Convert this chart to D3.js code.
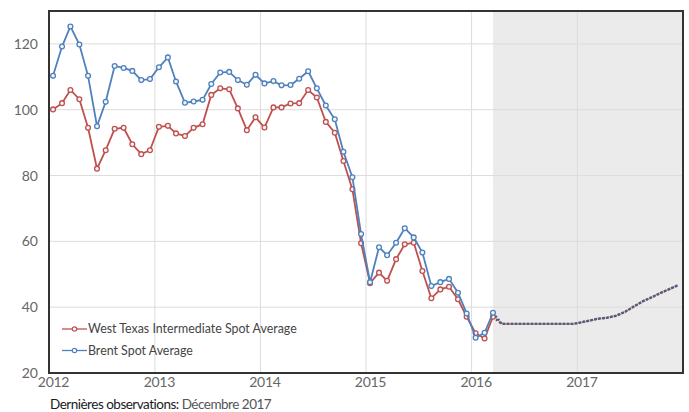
<!DOCTYPE html>
<html>
<head>
<meta charset="utf-8">
<script src="https://cdn.jsdelivr.net/npm/d3@7"></script>
<style>
  html, body { margin: 0; padding: 0; background: #fff; }
  svg { display: block; }
  text { font-family: Lato, "Open Sans", sans-serif; }
</style>
</head>
<body>
<svg id="chart" width="689" height="412"></svg>
<script>
// Monthly spot averages (USD per barrel), Jan 2012 – Mar 2016
const wtiValues = [
  100.1, 102.0, 106.0, 103.2, 94.5, 82.1, 87.7, 94.2, 94.5, 89.5, 86.5, 87.7,
  94.8, 95.1, 92.8, 92.0, 94.5, 95.6, 104.5, 106.5, 106.2, 100.4, 93.8, 97.7,
  94.6, 100.7, 100.7, 101.9, 102.0, 106.0, 103.7, 96.3, 93.0, 84.4, 75.8, 59.4,
  47.3, 50.5, 48.0, 54.6, 59.1, 59.6, 51.0, 42.7, 45.4, 46.2, 42.4, 37.1,
  32.1, 30.5, 37.1
];
const brentValues = [
  110.3, 119.2, 125.3, 119.8, 110.3, 95.0, 102.4, 113.3, 112.7, 111.8, 109.0, 109.3,
  112.9, 115.9, 108.6, 102.1, 102.5, 103.0, 107.8, 111.3, 111.5, 109.0, 107.6, 110.6,
  108.0, 108.7, 107.4, 107.5, 109.4, 111.7, 106.5, 101.3, 97.1, 87.2, 79.5, 62.2,
  47.6, 58.2, 55.8, 59.6, 64.0, 61.2, 56.6, 46.4, 47.6, 48.6, 44.4, 38.1,
  30.7, 32.2, 38.3
];
// Projection, Apr 2016 – Dec 2017 (both benchmarks share the same path)
const forecastValues = [
  34.9, 34.9, 34.9, 34.9, 34.9, 34.9, 34.9, 34.9, 34.9,
  35.4, 36.0, 36.5, 36.8, 37.4, 38.6, 40.2, 41.8, 43.0, 44.3, 45.5, 46.7
];
const seriesNames = ["West Texas Intermediate Spot Average", "Brent Spot Average"];
const yTicks = [20, 40, 60, 80, 100, 120];
const yearTicks = [2012, 2013, 2014, 2015, 2016, 2017];
const footnoteLead = "Dernières observations:";
const footnoteDate = " Décembre 2017";

const colors = { wti: "#c0504d", brent: "#4f81bd" };

const svg = d3.select("#chart");
const plotLeft = 49, plotRight = 683, plotTop = 11, plotBottom = 373;

const x = d3.scaleTime()
  .domain([new Date(2012, 0, 1), new Date(2018, 0, 1)])
  .range([plotLeft, plotRight]);
const y = d3.scaleLinear().domain([20, 130]).range([plotBottom, plotTop]);

// mid-month dates
const obsDates = d3.range(wtiValues.length).map(i => new Date(2012, i, 15));
const fcDates = d3.range(forecastValues.length).map(i => new Date(2012, wtiValues.length + i, 15));

const lastObs = obsDates[obsDates.length - 1];

// projection shading
svg.append("rect")
  .attr("x", x(lastObs))
  .attr("y", y(130))
  .attr("width", x(new Date(2018, 0, 1)) - x(lastObs))
  .attr("height", y(20) - y(130))
  .attr("fill", "#ebebeb");

// grid
const grid = svg.append("g");
grid.selectAll("line.h").data(yTicks.slice(1)).join("line")
  .attr("x1", plotLeft).attr("x2", plotRight)
  .attr("y1", d => y(d)).attr("y2", d => y(d))
  .attr("stroke", "#dcdcdc").attr("stroke-width", 1);
grid.selectAll("line.v").data(yearTicks.slice(1)).join("line")
  .attr("x1", d => x(new Date(d, 0, 1))).attr("x2", d => x(new Date(d, 0, 1)))
  .attr("y1", plotTop).attr("y2", plotBottom)
  .attr("stroke", "#dcdcdc").attr("stroke-width", 1);

// axes (labels only; frame drawn separately)
const yAxis = d3.axisLeft(y).tickValues(yTicks).tickSize(0).tickPadding(11);
svg.append("g").attr("transform", `translate(${plotLeft},0)`).call(yAxis)
  .call(g => g.select(".domain").remove())
  .call(g => g.selectAll("text").attr("font-size", 14).attr("fill", "#666")
    .attr("font-family", "Lato, sans-serif"));

const xAxis = d3.axisBottom(x)
  .tickValues(yearTicks.map(yr => new Date(yr, 0, 1)))
  .tickFormat(d3.timeFormat("%Y")).tickSize(0).tickPadding(4);
svg.append("g").attr("transform", `translate(0,${plotBottom})`).call(xAxis)
  .call(g => g.select(".domain").remove())
  .call(g => g.selectAll("text").attr("font-size", 14).attr("fill", "#666")
    .attr("dx", 4).attr("letter-spacing", -0.3).attr("font-family", "Lato, sans-serif"));

// series
const line = d3.line().x(d => x(d.date)).y(d => y(d.value));
function drawSeries(values, color) {
  const pts = values.map((v, i) => ({ date: obsDates[i], value: v }));
  const fc = [pts[pts.length - 1]].concat(forecastValues.map((v, i) => ({ date: fcDates[i], value: v })));
  svg.append("path").datum(fc)
    .attr("d", line).attr("fill", "none")
    .attr("stroke", d3.color(color).darker(0.7)).attr("stroke-width", 2.3)
    .attr("stroke-dasharray", "2,2");
  svg.append("path").datum(pts)
    .attr("d", line).attr("fill", "none")
    .attr("stroke", color).attr("stroke-width", 1.8);
  svg.append("g").selectAll("circle").data(pts).join("circle")
    .attr("cx", d => x(d.date)).attr("cy", d => y(d.value)).attr("r", 2.4)
    .attr("fill", "#f4f6fa").attr("stroke", color).attr("stroke-width", 1.3);
}
drawSeries(wtiValues, colors.wti);
drawSeries(brentValues, colors.brent);

// frame
svg.append("rect")
  .attr("x", plotLeft).attr("y", plotTop)
  .attr("width", plotRight - plotLeft).attr("height", plotBottom - plotTop)
  .attr("fill", "none").attr("stroke", "#333").attr("stroke-width", 2);

// legend
const legend = svg.append("g").attr("transform", "translate(62,329)");
[colors.wti, colors.brent].forEach((c, i) => {
  const g = legend.append("g").attr("transform", `translate(0,${i * 21.5})`);
  g.append("line").attr("x1", 0).attr("x2", 25).attr("stroke", c).attr("stroke-width", 1.3);
  g.append("circle").attr("cx", 12.5).attr("r", 2.2).attr("fill", "#fff").attr("stroke", c).attr("stroke-width", 1.2);
  g.append("text").attr("x", 26).attr("dy", "0.35em").attr("font-size", 12.4)
    .attr("fill", "#444").text(seriesNames[i]);
});

// footnote
const foot = svg.append("text").attr("x", 50).attr("y", 409).attr("font-size", 13.5);
foot.append("tspan").attr("fill", "#1a1a1a").attr("letter-spacing", -0.5).text(footnoteLead);
foot.append("tspan").attr("fill", "#555").attr("letter-spacing", -0.5).text(footnoteDate);
</script>
</body>
</html>
